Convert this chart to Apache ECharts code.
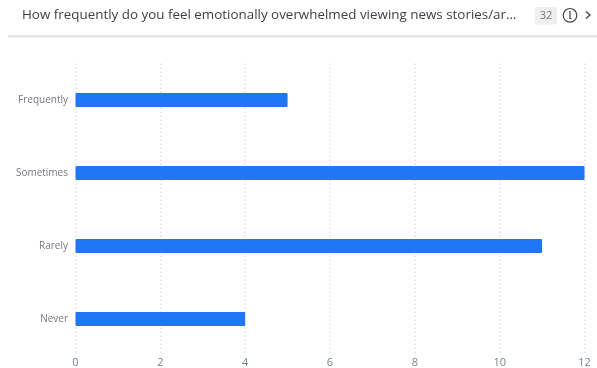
<!DOCTYPE html>
<html>
<head>
<meta charset="utf-8">
<style>html,body{margin:0;padding:0;background:#fff}#chart{width:597px;height:368px}</style>
<script src="https://cdn.jsdelivr.net/npm/echarts@6/dist/echarts.min.js"></script>
</head>
<body>
<div id="chart"></div>
<script>
// Survey responses per answer option
const categories = ['Frequently', 'Sometimes', 'Rarely', 'Never'];
const responses = [5, 12, 11, 4];
const xTicks = [0, 2, 4, 6, 8, 10, 12];
const heading = 'How frequently do you feel emotionally overwhelmed viewing news stories/ar\u2026';
const responseCount = '32';

const FONT = '"Open Sans", "Noto Sans", sans-serif';
const chart = echarts.init(document.getElementById('chart'), null, { renderer: 'canvas' });

chart.setOption({
  animation: false,
  backgroundColor: '#ffffff',
  title: {
    text: heading,
    left: 22,
    top: 9,
    padding: 0,
    textStyle: { fontFamily: FONT, fontSize: 13.4, fontWeight: 'normal', color: '#3b3f45' }
  },
  grid: { left: 75.5, right: 12.5, top: 63.5, bottom: 12.5, containLabel: false, outerBoundsMode: 'none' },
  xAxis: {
    type: 'value',
    min: xTicks[0],
    max: xTicks[xTicks.length - 1],
    interval: 2,
    axisLine: { show: false },
    axisTick: { show: false },
    axisLabel: { fontFamily: FONT, fontSize: 11, color: '#77838f', margin: 2 },
    splitLine: { show: true, lineStyle: { color: '#dcdee1', type: [1.5, 2.5], width: 1.5 } }
  },
  yAxis: {
    type: 'category',
    data: categories,
    inverse: true,
    axisLine: { show: false },
    axisTick: { show: false },
    axisLabel: { fontFamily: FONT, fontSize: 10, color: '#74787f', margin: 7.5, padding: [2, 0, 0, 0] }
  },
  series: [{
    type: 'bar',
    data: responses,
    barWidth: 14,
    itemStyle: { color: '#2176f5', borderRadius: 1 }
  }],
  graphic: [
    // header divider
    { type: 'rect', shape: { x: 8, y: 35, width: 589, height: 2.5 }, style: { fill: '#e6e6e6' } },
    // response count badge
    { type: 'rect', shape: { x: 535, y: 7, width: 22, height: 17.5, r: 2 }, style: { fill: '#efefef' } },
    { type: 'text', x: 546, y: 16, style: { text: responseCount, fontFamily: FONT, fontSize: 11, fill: '#75797f', align: 'center', verticalAlign: 'middle' } },
    // info icon
    { type: 'circle', shape: { cx: 570, cy: 15.3, r: 6.8 }, style: { fill: 'none', stroke: '#3f4347', lineWidth: 1.2 } },
    { type: 'polyline', shape: { points: [[569, 11.5], [570, 11.5], [570, 18.5], [571.5, 18.5]] }, style: { fill: 'none', stroke: '#3f4347', lineWidth: 1.2 } },
    // next chevron
    { type: 'polyline', shape: { points: [[586, 11.5], [590, 15], [586, 18.5]] }, style: { fill: 'none', stroke: '#3f4347', lineWidth: 1.3 } }
  ]
});
</script>
</body>
</html>
